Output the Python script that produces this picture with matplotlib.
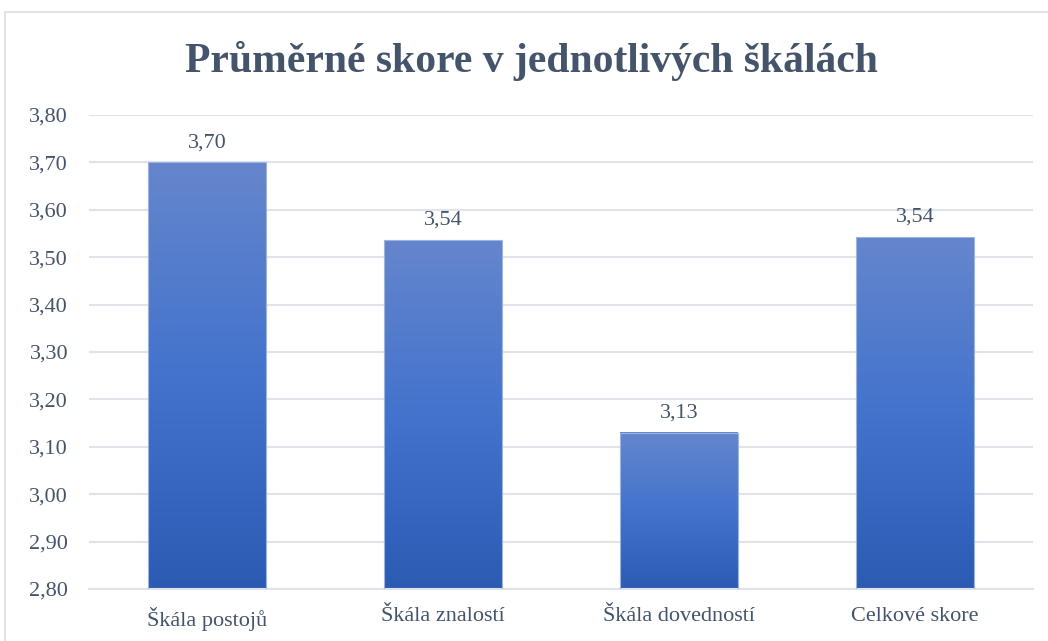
import matplotlib
matplotlib.use("Agg")
import matplotlib.pyplot as plt
import numpy as np
from matplotlib.colors import LinearSegmentedColormap
from matplotlib.patches import Rectangle

categories = ["Škála postojů", "Škála znalostí", "Škála dovedností", "Celkové skore"]
values = [3.70, 3.536, 3.13, 3.542]
y_ticks = [2.80, 2.90, 3.00, 3.10, 3.20, 3.30, 3.40, 3.50, 3.60, 3.70, 3.80]
y_min, y_max = 2.80, 3.80

TEXT = "#44546A"
GRID = "#E0E4EA"
plt.rcParams["font.family"] = ["Liberation Serif", "DejaVu Serif"]

fig = plt.figure(figsize=(10.48, 6.41), dpi=100)
fig.patches.append(Rectangle((5 / 1048, -0.1), 1.2, (641 - 12) / 641 + 0.1,
                             transform=fig.transFigure, fill=False,
                             edgecolor="#D9DEE5", lw=1.2))

ax = fig.add_axes([89 / 1048, (641 - 589) / 641, 944 / 1048, 474 / 641])
x = np.arange(len(categories))
bars = ax.bar(x, values, width=0.5, color="none", edgecolor="#9DB3E0",
              linewidth=0.8, zorder=3)

# vertical gradient over the visible part of each bar: light top, dark base
cmap = LinearSegmentedColormap.from_list("bar", ["#2C5BB4", "#4373CC", "#6586CD"])
grad = np.linspace(0, 1, 256).reshape(-1, 1)
for b in bars:
    x0 = b.get_x()
    top = b.get_y() + b.get_height()
    ax.imshow(grad, cmap=cmap, origin="lower", aspect="auto", zorder=2,
              extent=(x0, x0 + b.get_width(), y_min, top),
              interpolation="bilinear")

for xi, v in zip(x, values):
    ax.annotate(f"{v:.2f}".replace(".", ","), (xi, v), xytext=(0, 11),
                textcoords="offset points", ha="center", va="baseline",
                fontsize=16, color=TEXT)

ax.set_xlim(-0.5, len(categories) - 0.5)
ax.set_ylim(y_min, y_max)
ax.set_yticks(y_ticks)
ax.set_yticklabels([f"{t:.2f}".replace(".", ",") for t in y_ticks])
ax.set_xticks(x)
ax.set_xticklabels(categories)
ax.tick_params(axis="both", length=0, labelsize=16, labelcolor=TEXT)
ax.tick_params(axis="y", pad=15)
ax.tick_params(axis="x", pad=13)
ax.grid(axis="y", color=GRID, lw=1.5, zorder=0)
ax.set_axisbelow(True)
for s in ["top", "right", "left"]:
    ax.spines[s].set_visible(False)
ax.spines["bottom"].set_color(GRID)
ax.spines["bottom"].set_linewidth(1.5)

fig.text(531 / 1048, 1 - 72 / 641, "Průměrné skore v jednotlivých škálách",
         ha="center", va="baseline", fontsize=30, fontweight="bold", color=TEXT)

fig.savefig("out.png", dpi=100)
